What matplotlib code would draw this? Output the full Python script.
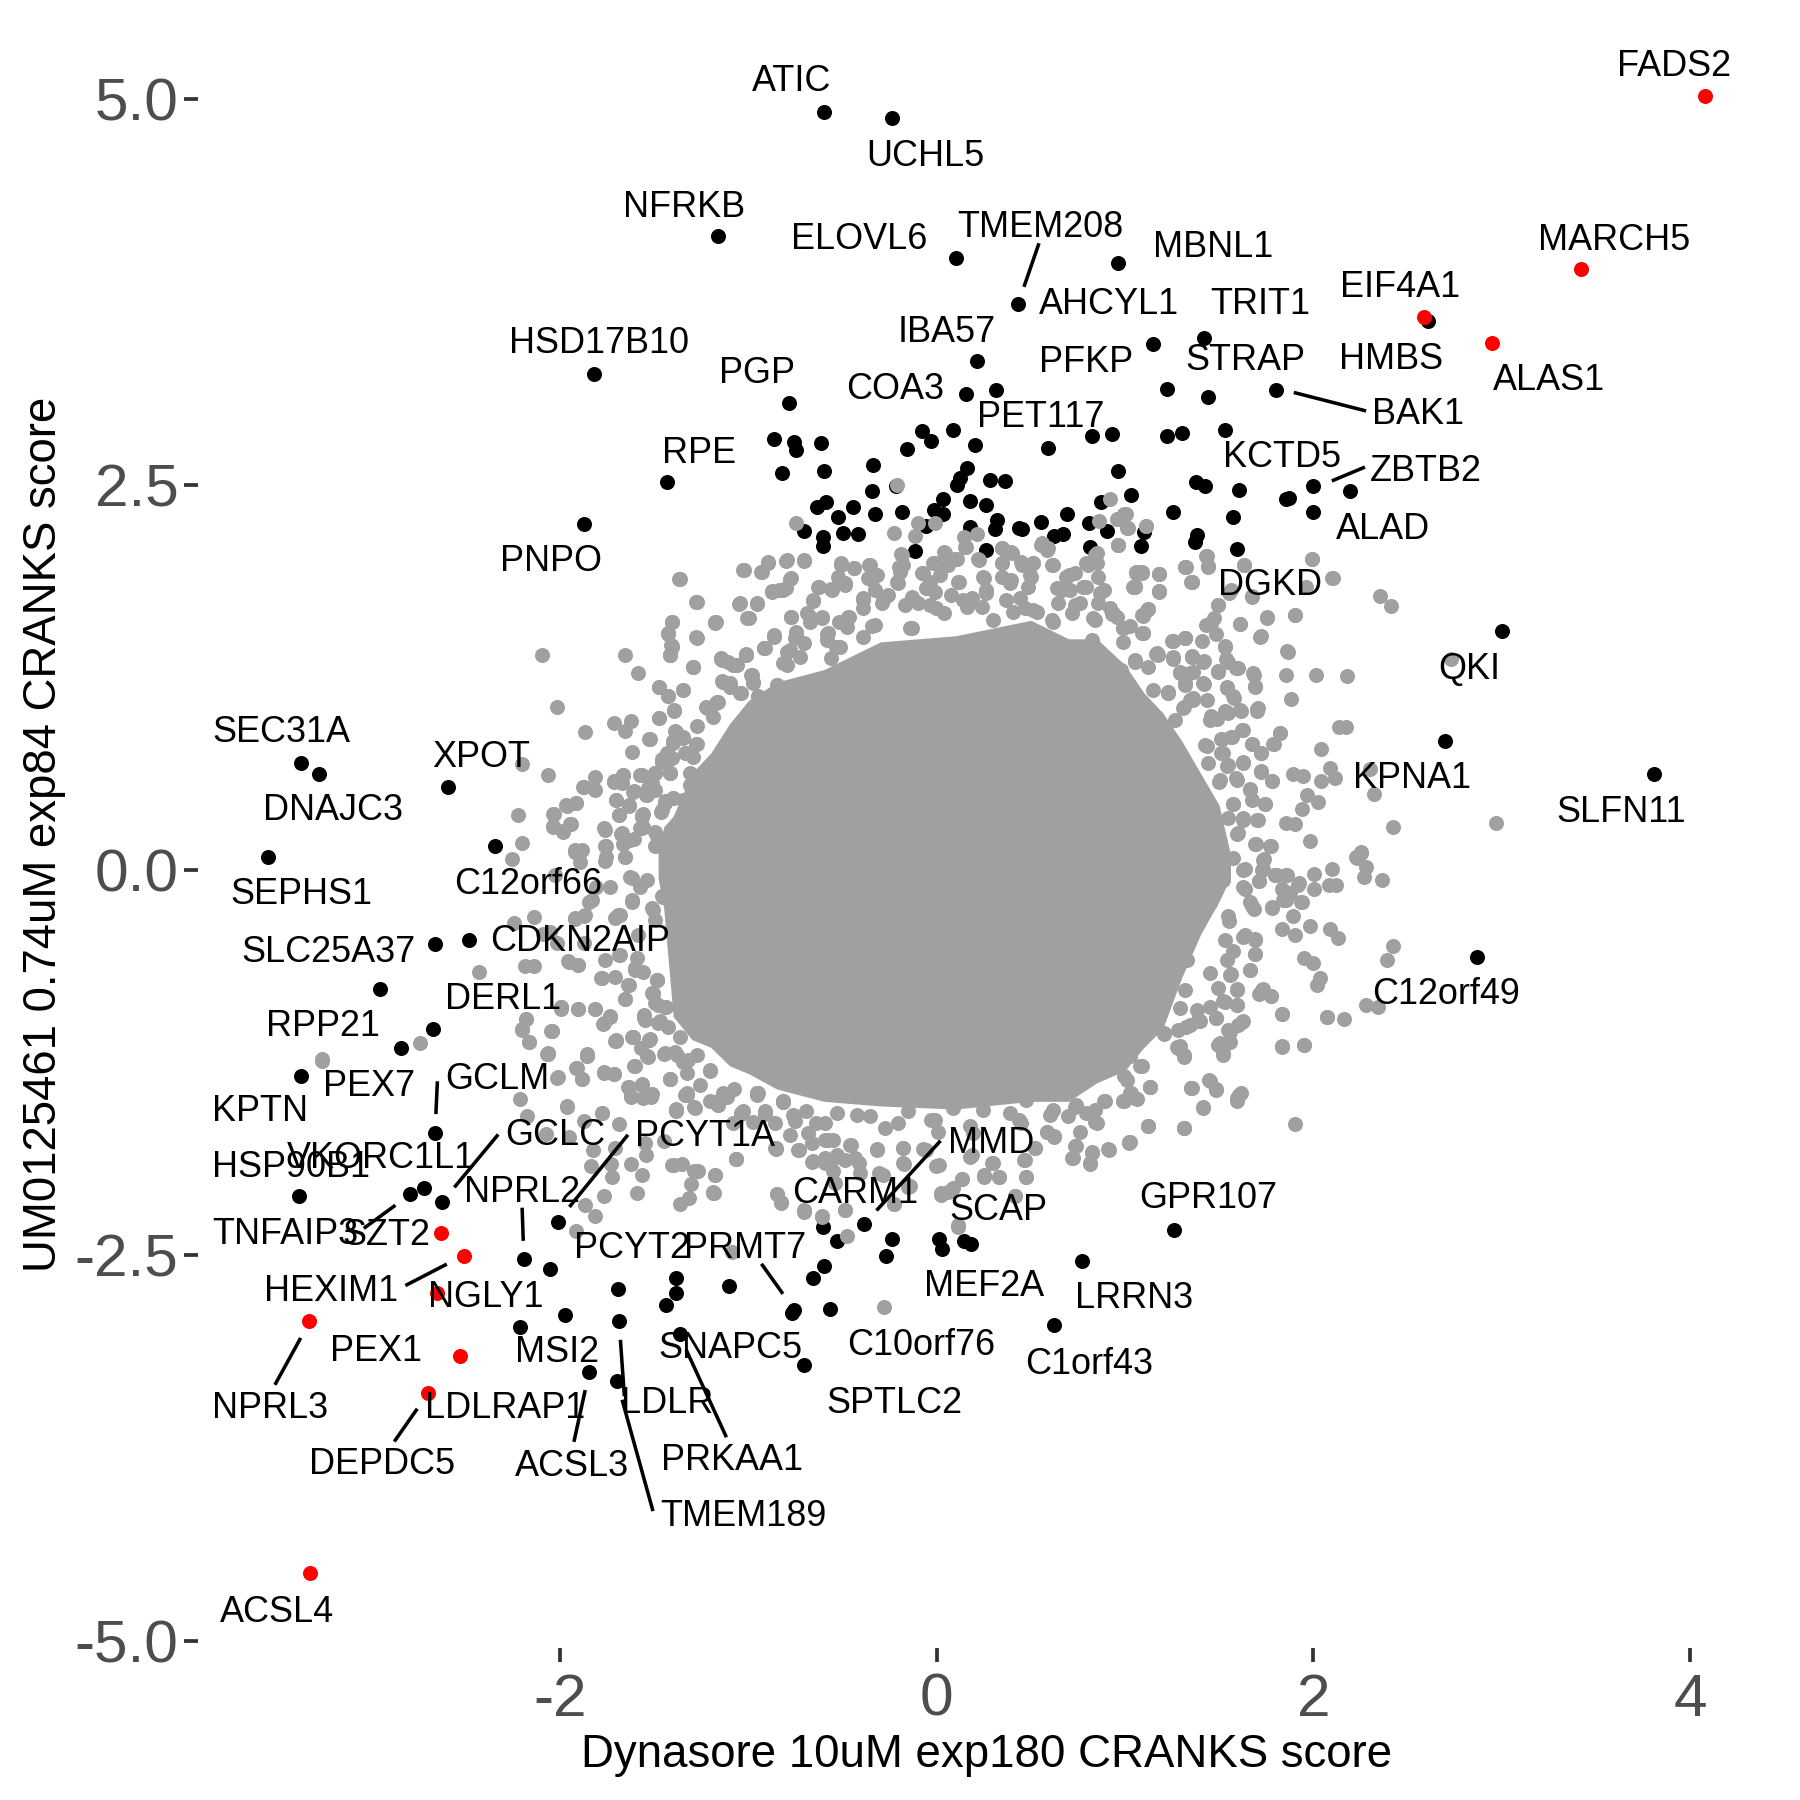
import matplotlib
matplotlib.use("Agg")
import matplotlib.pyplot as plt

plt.rcParams['font.family'] = ['Liberation Sans', 'DejaVu Sans']
plt.rcParams['axes.unicode_minus'] = False

# Dense centre of the cloud, read as an outline (x, upper y, lower y)
core_x = [-1.48, -1.45, -1.4, -1.3, -1.2, -1.1, -1.0, -0.85, -0.6, -0.3, 0.1, 0.5, 0.7, 0.85, 1.0, 1.1, 1.2, 1.3, 1.4, 1.5, 1.56]
core_hi = [0.10, 0.28, 0.35, 0.63, 0.76, 0.95, 1.10, 1.22, 1.30, 1.48, 1.52, 1.62, 1.50, 1.50, 1.33, 1.15, 1.02, 0.84, 0.63, 0.42, 0.10]
core_lo = [-0.05, -0.25, -0.95, -1.10, -1.15, -1.27, -1.32, -1.42, -1.50, -1.53, -1.55, -1.50, -1.50, -1.38, -1.30, -1.15, -1.03, -0.70, -0.42, -0.20, -0.05]

# Not-significant genes visible outside the dense centre
grey_points = [
(-1.365,1.887),(-1.276,1.736),(-1.178,1.607),(-1.405,1.607),(-1.426,1.533),(-1.276,1.509),(-1.405,1.451),(-1.415,1.398),
(-2.094,1.398),(-1.656,1.398),(-1.585,1.278),(-1.295,1.317),(-1.145,1.366),(-1.474,1.190),(-1.426,1.127),(-1.346,1.167),
(-1.136,1.220),(-2.016,1.058),(-1.396,1.035),(-1.225,1.058),(-1.174,1.081),(-1.866,0.896),(-1.714,0.956),(-1.625,0.970),
(-1.657,0.903),(-1.474,0.988),(-1.525,0.849),(-1.616,0.768),(-2.204,0.687),(-2.063,0.618),(-1.815,0.602),(-1.876,0.541),
(-1.815,0.518),(-1.714,0.572),(-1.667,0.618),(-1.576,0.618),(-1.496,0.629),(-1.415,0.629),(-1.458,0.722),(-1.383,0.896),
(-1.278,0.815),(-1.326,0.757),(-1.705,0.456),(-1.967,0.421),(-1.917,0.437),(-2.225,0.358),(-2.035,0.363),(-2.037,0.282),
(-1.942,0.298),(-1.986,0.247),(-1.686,0.358),(-1.635,0.421),(-1.559,0.363),(-1.610,0.514),(-1.544,0.490),(-2.204,0.178),
(-1.766,0.270),(-1.676,0.236),(-1.610,0.201),(-1.559,0.282),(-2.255,0.074),(-1.923,0.120),(-1.895,0.120),(-1.762,0.155),
(-1.657,0.085),(-1.895,0.050),(-1.762,0.062),(-2.027,-0.031),(-1.809,-0.112),(-1.847,-0.204),(-1.620,-0.054),(-1.620,-0.204),
(-1.458,-0.170),(-1.405,-0.123),(-2.246,-0.343),(-2.141,-0.302),(-1.923,-0.320),(-1.876,-0.297),(-1.695,-0.290),(-2.090,-0.413),
(-2.018,-0.471),(-1.876,-0.471),(-1.686,-0.552),(-1.955,-0.598),(-1.905,-0.617),(-2.189,-0.621),(-2.141,-0.621),(-2.433,-0.663),
(-1.781,-0.702),(-1.601,-0.633),(-1.633,-0.744),(-1.487,-0.714),(-1.657,-0.834),(-1.506,-0.806),(-1.439,-0.888),(-1.995,-0.888),
(-1.904,-0.904),(-1.815,-0.904),(-1.733,-0.950),(-1.771,-0.996),(-2.183,-0.969),(-2.204,-1.033),(-2.046,-1.043),(-2.164,-1.112),
(-1.709,-1.108),(-1.616,-1.080),(-1.553,-0.957),(-1.525,-1.096),(-2.065,-1.189),(-1.857,-1.196),(-2.744,-1.124),(-3.264,-1.223),
(1.112,2.232),(1.004,2.308),(0.958,2.274),(1.009,2.216),(0.962,2.107),(1.432,2.035),(1.442,1.973),(1.322,1.968),(1.631,1.980),
(1.992,2.017),(2.102,1.896),(1.057,1.926),(1.091,1.926),(1.182,1.919),(1.053,1.845),(1.182,1.808),(1.353,1.868),(1.550,1.799),
(1.673,1.776),(1.963,1.834),(2.352,1.780),(2.413,1.711),(1.493,1.718),(1.470,1.637),(1.432,1.590),(1.612,1.597),(1.753,1.637),
(1.901,1.655),(1.722,1.519),(1.483,1.533),(1.408,1.486),(1.318,1.505),(1.252,1.486),(1.531,1.451),(1.123,1.695),(1.095,1.648),
(1.095,1.537),(0.990,1.567),(0.933,1.660),(1.863,1.417),(1.165,1.401),(1.256,1.370),(1.354,1.389),(1.417,1.359),(1.535,1.366),
(1.853,1.266),(2.013,1.266),(2.181,1.257),(2.732,1.370),(1.683,1.266),(1.493,1.289),(1.313,1.266),(1.588,1.312),(1.692,1.192),
(1.417,1.208),(1.540,1.185),(1.882,1.109),(1.578,1.116),(1.360,1.116),(1.227,1.150),(1.702,1.046),(1.616,1.035),(1.313,1.058),
(1.531,1.035),(1.455,1.000),(2.134,0.928),(2.176,0.928),(1.622,0.907),(1.821,0.889),(1.512,0.849),(1.565,0.861),(1.673,0.815),
(1.791,0.815),(2.043,0.787),(1.722,0.757),(1.436,0.803),(1.512,0.757),(1.626,0.699),(1.540,0.676),(1.720,0.641),(1.781,0.578),
(1.891,0.625),(1.944,0.611),(2.090,0.664),(2.043,0.578),(2.113,0.595),(2.303,0.653),(2.322,0.495),(1.502,0.583),(1.588,0.595),
(1.664,0.525),(1.967,0.486),(2.024,0.444),(1.942,0.393),(1.743,0.428),(1.573,0.428),(1.626,0.340),(1.702,0.328),(1.853,0.305),
(1.905,0.298),(2.422,0.277),(2.972,0.305),(1.597,0.236),(1.982,0.187),(1.692,0.166),(1.774,0.155),(1.740,0.074),(2.252,0.120),
(2.229,0.085),(2.280,0.020),(2.271,-0.047),(2.362,-0.065),(2.100,0.004),(2.001,-0.026),(2.081,-0.100),(2.119,-0.100),(1.730,0.004),
(1.635,0.004),(1.796,-0.031),(1.853,-0.031),(1.711,-0.072),(1.920,-0.100),(2.001,-0.123),(1.834,-0.123),(1.635,-0.123),(1.853,-0.193),
(1.939,-0.204),(1.664,-0.204),(1.683,-0.251),(1.783,-0.239),(1.891,-0.297),(1.982,-0.360),(1.831,-0.383),(1.901,-0.424),(2.090,-0.385),
(2.132,-0.443),(1.635,-0.420),(1.692,-0.448),(1.550,-0.332),(2.422,-0.494),(2.392,-0.582),(1.692,-0.545),(1.948,-0.570),(1.996,-0.605),
(1.664,-0.651),(1.559,-0.679),(2.034,-0.702),(2.020,-0.744),(1.594,-0.776),(1.730,-0.772),(1.777,-0.818),(1.711,-0.807),(1.594,-0.876),
(1.531,-0.853),(1.834,-0.934),(2.071,-0.955),(2.163,-0.964),(2.280,-0.874),(2.343,-0.888),(1.483,-0.957),(1.622,-0.985),(1.556,-1.050),
(1.502,-1.131),(1.834,-1.142),(1.952,-1.135),(1.294,-1.142),(1.076,-1.108),(1.208,-1.061),(1.322,-1.015),(1.398,-0.980),(1.521,-1.189),(0.971,-1.061),
(-3.265,-1.236),(-2.182,-0.969),(-2.202,-1.039),(-2.165,-1.115),(-2.045,-1.043),(-2.066,-1.194),(-1.997,-0.900),(-1.856,-1.206),
(-1.705,-1.104),(-1.615,-1.085),(-1.535,-1.212),(-1.604,-1.270),(-1.913,-1.282),(-1.883,-1.356),(-2.014,-1.345),(-1.766,-1.317),
(-1.715,-1.324),(-1.415,-1.356),(-2.213,-1.483),(-1.965,-1.532),(-2.175,-1.595),(-1.776,-1.578),(-1.871,-1.629),(-1.688,-1.646),
(-1.636,-1.405),(-1.625,-1.467),(-1.566,-1.391),(-1.520,-1.456),(-1.384,-1.560),(-1.331,-1.456),(-1.289,-1.537),(-1.163,-1.525),
(-1.552,-1.768),(-1.545,-1.849),(-1.825,-1.815),(-1.951,-1.734),(-2.077,-1.710),(-1.709,-1.803),(-1.447,-1.757),(-1.064,-1.877),
(-1.835,-1.919),(-1.730,-1.907),(-1.726,-1.988),(-1.625,-1.907),(-1.566,-1.977),(-1.404,-1.914),(-1.352,-1.907),(-1.289,-1.954),
(-1.178,-1.977),(-1.306,-2.039),(-1.184,-2.095),(-1.594,-2.097),(-1.766,-2.111),(-1.316,-2.127),(-1.363,-2.167),(-1.867,-2.174),
(-1.814,-2.243),(-1.915,-2.343),(-0.848,-2.104),(-0.827,-2.162),(-0.859,-1.803),(-1.037,-1.583),(-0.911,-1.583),(-0.817,-1.502),
(-0.953,-1.456),(-1.079,-1.421),(-1.205,-1.305),(-0.753,-1.629),(-1.090,-2.475),
(-1.386,-1.555),(-1.066,-1.875),(-1.398,-1.912),(-1.268,-1.949),(-1.190,-2.091),(-0.706,-2.208),(-0.609,-2.247),(-0.485,-2.204),
(-0.478,-2.372),(-0.279,-2.831),(-0.225,-2.165),(-0.154,-2.053),(-0.308,-1.966),(-0.177,-1.901),(0.024,-2.096),(0.084,-2.063),
(0.133,-2.005),(0.250,-1.977),(0.333,-1.992),(0.475,-1.992),(0.297,-1.901),(0.463,-1.880),(0.415,-2.117),(0.112,-2.312),(0.012,-1.912),
(-0.059,-1.815),(-0.177,-1.804),(-0.320,-1.815),(-0.462,-1.782),(-0.533,-1.858),(-0.663,-1.895),(-0.592,-1.901),(-0.414,-1.901),
(-0.734,-1.815),(-0.663,-1.771),(-0.580,-1.750),(-0.853,-1.804),(-0.758,-1.599),(-0.640,-1.642),(-0.948,-1.447),(-0.817,-1.501),
(-1.031,-1.566),(-1.149,-1.490),(-1.327,-1.458),(-1.517,-1.469),(-0.011,-1.620),(0.178,-1.858),(0.190,-1.707),(0.586,-1.696),
(0.624,-1.728),(0.522,-1.804),(0.736,-1.793),(0.717,-1.869),(0.823,-1.826),(0.814,-1.901),(0.913,-1.815),(1.025,-1.767),(1.122,-1.663),
(1.312,-1.674),(1.902,-1.646),(1.416,-1.540),(1.594,-1.480),(1.606,-1.458),(1.352,-1.415),(1.482,-1.421),(1.447,-1.361),(1.131,-1.404),
(1.075,-1.106),(1.281,-1.155),(1.312,-1.214),(1.518,-1.199),(1.506,-1.123),(1.601,-1.004),(1.388,-0.972),(1.831,-0.935),(2.070,-0.954),
(1.831,-1.145),(1.952,-1.134),(0.996,-1.501),(0.890,-1.501),(0.795,-1.577),(0.842,-1.631),(0.736,-1.534),(0.617,-1.555),(0.475,-1.490),
(1.032,-1.447),(1.079,-1.274),(0.996,-1.339),(0.747,-1.382),(0.581,-1.220),(0.439,-1.620),
(-0.746,2.250),(-0.213,2.498),(0.918,2.405),(0.996,2.310),(0.961,2.276),(0.861,2.265),(1.013,2.217),(1.110,2.232),(0.963,2.109),
(-0.225,2.189),(-0.101,2.250),(-0.007,2.250),(-0.113,2.170),(0.143,2.163),(0.214,2.181),(0.558,2.120),(0.589,2.088),(-0.189,2.051),
(0.041,2.066),(0.155,2.098),(0.344,2.088),(0.392,2.066),(0.226,2.012),(0.095,2.016),(-0.011,1.990),(0.842,2.044),(0.795,1.990),
(0.617,1.980),(0.510,1.990),(0.451,1.981),(0.344,1.990),(-1.367,1.889),(-1.026,1.947),(-0.931,1.936),(-0.896,1.997),(-0.794,2.008),
(-0.706,2.008),(-0.775,1.893),(-0.877,1.807),(-0.817,1.817),(-0.623,1.839),(-0.557,1.817),(-0.485,1.850),(-0.509,1.990),(-0.438,1.958),
(-0.355,1.980),(-0.343,1.882),(-0.201,1.969),(-0.213,1.871),(-0.071,1.926),(-0.059,1.828),(0.119,1.871),(0.250,1.893),(0.261,1.796),
(0.392,1.882),(0.499,1.904),(0.700,1.915),(0.795,1.839),(0.664,1.817),(0.890,1.817),(1.067,1.936),(1.179,1.919),(1.044,1.839),(1.179,1.811),
(1.321,1.969),(1.435,2.034),(1.440,1.969),(1.352,1.871),(1.632,1.980),(1.992,2.018),(2.099,1.897),(1.565,1.817),(1.672,1.774),(1.494,1.720),
(1.755,1.640),(1.902,1.655),(1.613,1.595),(1.719,1.515),(1.862,1.418),(1.459,1.601),(1.115,1.688),(1.091,1.536),(1.257,1.487),(1.321,1.508),
(1.028,1.580),(0.937,1.666),(-1.275,1.737),(-1.050,1.727),(-0.955,1.727),(-0.999,1.634),(-1.173,1.608),(-1.405,1.612),(-1.429,1.536),
(-1.275,1.508),(-1.410,1.461),(-1.415,1.396),(-1.144,1.374),(-1.078,1.331),(-1.014,1.396),(-1.296,1.320),(-0.865,1.515),(-0.775,1.644),
(-0.675,1.644),(-0.609,1.640),(-0.474,1.644),(-0.746,1.536),(-0.580,1.536),(-0.656,1.753),(-0.391,1.753),(-0.284,1.753),(-0.130,1.753),
(0.036,1.666),(0.178,1.753),(0.368,1.753),(0.510,1.688),(0.736,1.720),(-0.343,1.580),(-0.130,1.569),(0.297,1.623),(0.617,1.612),(0.842,1.623),
(-0.912,1.439),(-0.782,1.428),(-0.533,1.450),(1.174,1.396),
]

# Second reading of the cloud's edge, from closer crops: top
grey_top = [
(-1.028,1.946),(-0.895,1.990),(-0.930,1.936),(-0.798,2.007),(-0.706,2.007),(-0.780,1.886),(-0.877,1.806),(-0.798,1.828),(-0.837,1.817),
(-0.630,1.838),(-0.559,1.821),(-0.488,1.860),(-0.523,1.903),(-0.506,1.979),(-0.438,1.957),(-0.359,1.979),(-0.364,1.892),(-0.320,1.914),
(-0.391,1.763),(-0.391,1.698),(-0.329,1.817),(-0.293,1.730),(-0.258,1.784),(-0.205,1.860),(-0.196,1.936),(-0.178,1.979),(-0.187,2.044),
(-0.081,1.925),(-0.019,1.990),(0.043,2.055),(0.105,2.016),(0.061,1.979),(0.017,1.914),(-0.037,1.871),(-0.054,1.828),(-0.010,1.806),
(-0.134,1.773),(-0.169,1.719),(-0.098,1.730),(-0.037,1.719),(-0.002,1.698),(0.114,1.871),(0.078,1.784),(0.141,1.752),(0.185,1.763),
(0.158,1.709),(0.247,1.903),(0.220,2.016),(0.149,2.098),(0.264,1.817),(0.238,1.709),(0.344,1.990),(0.344,1.903),(0.388,1.860),(0.344,2.087),
(0.397,2.059),(0.450,2.000),(0.512,1.990),(0.495,1.914),(0.486,1.838),(0.441,1.763),(0.468,1.698),(0.530,1.676),(0.406,1.676),(0.610,1.979),
(0.583,2.076),(0.551,2.109),(0.689,1.903),(0.733,1.925),(0.636,1.828),(0.707,1.817),(0.778,1.838),(0.645,1.730),(0.760,1.730),(0.716,1.665),
(0.610,1.622),(0.804,1.979),(0.849,1.990),(0.849,2.055),(0.857,1.903),(0.866,1.795),(0.857,1.730),(0.919,1.698),(0.955,1.644),(0.831,1.633),
(0.990,1.568),(0.964,2.109),(1.057,1.936),(1.088,1.936),(1.052,1.838),(1.181,1.920),(1.181,1.806),(1.321,1.968),(1.353,1.871),(1.123,1.691),
(1.088,1.655),(1.093,1.536),(0.990,1.482),(1.247,1.488),(1.321,1.508),(1.167,1.406),(1.052,1.363),(1.123,1.320),(1.256,1.384),(1.353,1.384),
(0.981,1.298),(0.742,1.298),(0.875,1.341),(0.822,1.492),(1.291,1.276),(1.318,1.211),(1.362,1.287),(1.229,1.147),(1.150,1.168),(1.344,1.103),
(-1.178,1.605),(-1.046,1.730),(-0.957,1.730),(-1.007,1.637),(-0.776,1.644),(-0.691,1.665),(-0.674,1.611),(-0.612,1.637),(-0.656,1.748),
(-0.467,1.644),(-0.518,1.611),(-0.479,1.579),(-0.865,1.525),(-0.745,1.546),(-0.753,1.503),(-0.706,1.471),(-0.582,1.529),(-0.585,1.492),
(-0.918,1.438),(-1.015,1.395),(-0.794,1.417),(-0.514,1.449),(-0.329,1.590),(-0.391,1.514),(-0.143,1.568),(-1.148,1.367),(-1.081,1.330),
(-0.987,1.265),(-0.978,1.211),(-1.138,1.229),(-1.099,1.190),(-1.037,1.147),(-0.948,1.129),(-1.169,1.092),(-0.819,1.341),(-0.727,1.384),
(-0.847,1.201),(-0.559,1.374),
]

# Left edge
grey_left = [
(-1.408,1.450),(-1.417,1.396),(-1.296,1.316),(-1.473,1.190),(-1.426,1.130),(-1.346,1.169),(-1.395,1.039),(-1.473,0.985),(-1.526,0.849),
(-1.385,0.898),(-1.346,0.866),(-1.399,0.834),(-1.272,0.819),(-1.328,0.758),(-1.293,0.736),(-1.434,0.726),(-1.461,0.704),(-1.417,0.628),
(-1.496,0.628),(-1.310,0.628),(-1.567,0.617),(-1.310,0.553),(-1.532,0.531),(-1.443,0.434),(-1.399,0.466),(-1.461,0.391),(-1.346,0.455),
(-1.567,0.347),(-1.567,0.272),(-1.487,0.218),(-1.470,0.153),(-1.408,-0.117),(-1.452,-0.172),(-1.514,-0.247),(-1.487,-0.712),(-1.505,-0.798),
(-1.479,-0.874),(-1.549,-0.971),(-1.470,-0.982),(-1.526,-1.101),(-1.541,-1.209),(-1.443,-1.187),(-1.381,-1.198),(-1.319,-1.231),(-1.275,-1.198),
(-1.328,-1.317),(-1.417,-1.354),(-1.204,-1.296),(-1.257,-1.393),(-1.328,-1.447),(-1.284,-1.544),(-1.385,-1.555),(-1.133,-1.447),(-1.160,-1.523),
(-1.036,-1.577),(-0.956,-1.447),(-0.912,-1.577),(-0.815,-1.505),(-1.107,1.352),(-1.142,1.363),(-1.063,1.331),(-1.013,1.400),(-1.133,1.223),
(-1.098,1.212),(-1.045,1.147),(-0.983,1.266),(-0.974,1.223),(-0.948,1.125),(-0.916,1.439),(-1.160,1.093),(-1.222,1.050),(-1.275,0.935),
(-1.187,0.996),(-0.850,1.201),(-0.824,1.093),(-0.797,1.331),
]

# Outer left ring, upper half
grey_left_outer_up = [
(-1.434,0.758),(-1.408,0.726),(-1.461,0.704),(-1.337,0.758),(-1.390,0.899),(-1.399,0.823),(-1.346,0.856),(-1.417,0.629),(-1.496,0.629),
(-1.664,0.618),(-1.714,0.575),(-1.673,0.564),(-1.877,0.538),(-1.615,0.505),(-1.541,0.488),(-1.496,0.521),(-1.514,0.564),(-1.703,0.456),
(-1.916,0.438),(-1.965,0.417),(-2.036,0.363),(-1.633,0.417),(-1.686,0.358),(-1.567,0.358),(-1.443,0.445),(-1.399,0.467),(-1.466,0.376),
(-1.948,0.298),(-2.036,0.287),(-1.987,0.255),(-1.762,0.261),(-1.673,0.240),(-1.629,0.196),(-1.576,0.272),(-1.496,0.250),(-1.757,0.153),
(-1.664,0.170),(-1.921,0.127),(-1.886,0.127),(-1.496,0.153),(-1.656,0.084),(-1.757,0.084),
]

# Outer left ring, lower half
grey_left_outer_low = [
(-1.735,-0.107),(-1.833,-0.193),(-1.620,-0.193),(-1.576,-0.107),(-1.629,-0.042),(-1.541,-0.064),(-1.682,-0.291),(-1.709,-0.312),(-1.868,-0.291),
(-1.921,-0.312),(-2.054,-0.399),(-1.505,-0.258),(-1.452,-0.172),(-1.408,-0.129),(-1.496,-0.323),(-1.585,-0.420),(-1.682,-0.550),(-1.762,-0.583),
(-1.957,-0.593),(-1.903,-0.615),(-1.594,-0.572),(-1.602,-0.647),(-1.779,-0.701),(-1.709,-0.691),(-1.558,-0.658),(-1.487,-0.712),(-1.638,-0.745),
(-1.656,-0.835),(-1.514,-0.799),(-1.496,-0.864),(-1.443,-0.885),(-1.997,-0.889),(-1.907,-0.902),(-1.815,-0.902),(-1.735,-0.946),(-1.767,-0.989),
(-2.045,-1.043),(-1.555,-0.939),(-1.479,-0.993),(-1.425,-1.015),(-1.363,-1.080),(-1.705,-1.106),(-1.615,-1.084),(-1.526,-1.101),(-1.572,-1.155),
(-1.537,-1.209),(-1.448,-1.194),(-1.390,-1.177),(-1.346,-1.242),(-2.068,-1.194),(-1.856,-1.205),(-1.916,-1.281),(-1.886,-1.354),(-2.015,-1.346),
(-1.767,-1.313),(-1.714,-1.324),(-1.606,-1.274),(-1.417,-1.354),(-1.638,-1.404),(-1.567,-1.387),(-1.625,-1.469),(-1.514,-1.452),(-1.558,-1.480),
(-1.337,-1.458),(-1.386,-1.551),(-1.965,-1.534),(-1.776,-1.573),
]

# Right edge
grey_right = [
(1.168,1.402),(1.053,1.352),(0.973,1.298),(1.256,1.374),(1.354,1.385),(1.416,1.352),(1.531,1.450),(1.548,1.352),(1.602,1.309),(1.681,1.277),
(1.690,1.190),(1.495,1.288),(1.345,1.277),(1.292,1.288),(1.318,1.201),(1.416,1.212),(1.540,1.180),(1.575,1.126),(1.230,1.158),(1.363,1.104),
(1.433,1.104),(1.309,1.050),(1.265,0.974),(1.486,0.979),(1.548,1.017),(1.610,1.039),(1.708,1.050),(1.699,1.035),(1.451,0.974),(1.625,0.909),
(1.513,0.849),(1.566,0.860),(1.672,0.819),(1.722,0.758),(1.787,0.819),(1.823,0.888),(1.425,0.812),(1.522,0.758),(1.548,0.682),(1.628,0.693),
(1.722,0.639),(1.782,0.579),(1.442,0.693),(1.501,0.574),(1.593,0.585),(1.663,0.520),(1.672,0.455),(1.743,0.429),(1.571,0.429),(1.548,0.336),
(1.628,0.326),(1.708,0.326),(1.602,0.239),(1.694,0.168),(1.770,0.153),(1.734,0.066),(1.725,0.001),(1.711,-0.074),(1.796,-0.031),(1.575,0.077),
(1.628,0.001),(1.628,-0.107),(1.672,-0.236),(1.779,-0.243),(1.522,-0.063),(1.478,-0.117),(1.451,-0.215),(1.548,-0.301),(1.628,-0.431),
(1.690,-0.452),(1.690,-0.543),(1.531,-0.452),(1.575,-0.528),(1.664,-0.651),(1.561,-0.675),(1.593,-0.772),(1.725,-0.777),(1.773,-0.820),
(1.593,-0.874),(1.522,-0.852),(1.481,-0.960),(1.625,-0.982),(1.548,-1.036),(1.557,-1.112),(1.495,-1.134),(1.522,-1.188),(1.389,-0.982),
(1.283,-1.036),(1.345,-1.004),(1.207,-1.058),(1.274,-1.149),(1.313,-1.198),(1.070,-1.101),(1.292,-0.896),(1.380,-0.907),(1.451,-0.885),
(1.495,-0.766),(1.318,-0.777),(1.327,-0.582),(1.540,-0.582),(1.451,-0.669),(0.973,-1.252),(1.026,-1.209),(1.088,-1.274),(1.008,-1.360),
(0.991,-1.501),(1.062,-1.486),(1.026,-1.447),(1.132,-1.404),(1.354,-1.415),(1.451,-1.365),(1.483,-1.425),(1.412,-1.544),(1.614,-1.447),
(1.593,-1.497),(1.124,-1.663),(1.313,-1.674),(1.023,-1.771),
(1.925,-0.086),(1.876,-0.150),(1.840,-0.194),(1.805,-0.032),(1.858,-0.032),(1.937,-0.205),(2.251,0.109),(2.230,0.076),
]

# Bottom edge
grey_bottom = [
(-0.953,-1.447),(-0.815,-1.501),(-0.913,-1.566),(-1.037,-1.577),(-0.975,-1.631),(-0.860,-1.642),(-0.762,-1.588),(-0.692,-1.566),(-0.594,-1.642),
(-0.532,-1.577),(-0.426,-1.588),(-0.355,-1.598),(-0.276,-1.674),(-0.205,-1.642),(-0.152,-1.566),(-0.028,-1.620),(0.008,-1.696),(0.087,-1.544),
(0.176,-1.663),(0.247,-1.555),(0.388,-1.577),(0.450,-1.642),(0.583,-1.696),(0.622,-1.733),(0.601,-1.588),(0.698,-1.598),(0.742,-1.523),
(0.840,-1.555),(0.893,-1.501),(0.990,-1.501),(1.052,-1.480),(0.849,-1.642),(0.760,-1.696),(1.132,-1.404),(1.350,-1.415),(1.123,-1.663),
(1.312,-1.674),(1.020,-1.761),(0.911,-1.810),(0.742,-1.793),(0.721,-1.869),(0.822,-1.832),(0.813,-1.905),(0.468,-1.880),(0.521,-1.804),
(0.472,-1.992),(0.291,-1.901),(0.332,-1.992),(0.250,-1.988),(0.185,-1.847),(0.132,-2.005),(0.061,-2.085),(0.020,-2.107),(0.415,-2.117),
(0.114,-2.305),(-0.002,-1.918),(-0.072,-1.810),(-0.178,-1.804),(-0.175,-1.905),(-0.320,-1.810),(-0.284,-1.977),(-0.143,-2.052),(-0.226,-2.165),
(-0.458,-1.782),(-0.435,-1.869),(-0.408,-1.966),(-0.550,-1.750),(-0.594,-1.750),(-0.532,-1.847),(-0.594,-1.869),(-0.656,-1.890),(-0.488,-1.880),
(-0.550,-1.955),(-0.541,-2.031),(-0.736,-1.815),(-0.854,-1.810),(-0.683,-1.707),(-0.780,-1.717),(-1.067,-1.873),(-1.178,-1.977),(-1.187,-2.096),
(-0.847,-2.100),(-0.828,-2.156),(-0.706,-2.215),(-0.607,-2.251),(-0.488,-2.204),(-1.081,-1.642),(-1.116,-1.469),(-1.205,-1.501),
]

# Significant in one screen
black_points = [
(-0.60,4.92),(-0.24,4.88),(-1.16,4.11),(0.10,3.97),(0.96,3.94),(0.43,3.67),(1.15,3.41),(1.42,3.45),(2.61,3.56),(-1.82,3.22),
(0.214,3.30),(0.314,3.115),(0.155,3.089),(-0.786,3.03),(-0.865,2.795),(-0.758,2.775),(-0.746,2.725),(-0.616,2.769),(-0.824,2.578),
(-0.597,2.589),(-0.338,2.626),(-0.158,2.73),(-0.078,2.85),(-0.028,2.786),(0.084,2.857),(0.202,2.756),(0.162,2.611),(0.126,2.542),
(0.107,2.498),(0.285,2.529),(0.361,2.524),(0.593,2.736),(0.823,2.816),(0.932,2.827),(0.963,2.589),(1.224,3.119),(1.442,3.067),
(1.802,3.114),(1.224,2.814),(1.302,2.838),(1.532,2.857),(1.376,2.518),(1.423,2.488),(1.603,2.468),(2.0,2.488),(1.869,2.412),(1.855,2.405),
(2.0,2.325),(1.252,2.325),(1.572,2.289),(1.380,2.174),(1.371,2.131),(1.594,2.085),(1.032,2.436),(0.873,2.386),(0.811,2.25),(0.902,2.202),
(1.103,2.196),(1.084,2.105),(0.814,2.096),(0.693,2.31),(0.553,2.256),(0.669,2.18),(0.624,2.168),(0.439,2.217),(0.453,2.213),(0.321,2.271),
(0.311,2.213),(0.264,2.369),(0.174,2.397),(0.174,2.228),(0.264,2.077),(0.031,2.408),(-0.016,2.336),(0.031,2.308),(-0.059,2.235),(-0.116,2.068),
(-0.187,2.325),(-0.218,2.488),(-0.346,2.457),(-0.327,2.308),(-0.445,2.358),(-0.526,2.287),(-0.590,2.386),(-0.635,2.358),(-0.704,2.202),
(-0.606,2.163),(-0.606,2.103),(-0.497,2.189),(-0.417,2.178),(-1.434,2.516),(-1.876,2.246),(2.195,2.457),
(3.0,1.549),(2.70,0.834),(3.81,0.625),(2.87,-0.566),
(-3.374,0.694),(-3.283,0.625),(-2.594,0.537),(-3.552,0.087),(-2.346,0.159),(-2.665,-0.482),(-2.484,-0.452),(-2.955,-0.774),(-2.674,-1.033),(-2.845,-1.154),
(-3.374,-1.335),(-2.665,-1.706),(-3.385,-2.113),(-2.795,-2.104),(-2.723,-2.065),(-2.625,-2.155),(-2.014,-2.285),(-2.194,-2.526),(-2.056,-2.586),
(-1.694,-2.716),(-1.386,-2.648),(-1.386,-2.746),(-1.436,-2.824),(-1.104,-2.695),(-1.976,-2.885),(-1.686,-2.924),(-2.215,-2.966),(-1.365,-3.012),
(-1.846,-3.255),(-1.698,-3.313),
(-0.606,-2.318),(-0.386,-2.295),(-0.528,-2.403),(-0.237,-2.394),(0.012,-2.39),(0.027,-2.459),(0.143,-2.405),(0.183,-2.427),(-0.267,-2.504),
(-0.597,-2.565),(-0.656,-2.645),(1.262,-2.334),(0.771,-2.535),(0.624,-2.954),(-0.758,-2.852),(-0.770,-2.87),(-0.566,-2.846),(-0.706,-3.213),
]

# Significant in both screens
red_points = [
(4.08,5.02),(3.42,3.90),(2.59,3.59),(2.95,3.42),(-3.33,-4.56),
(-2.635,-2.354),(-2.513,-2.505),(-2.654,-2.746),(-3.334,-2.926),(-2.534,-3.153),(-2.704,-3.394),
]

label_names = ["ATIC","UCHL5","NFRKB","ELOVL6","TMEM208","MBNL1","AHCYL1","TRIT1","EIF4A1","MARCH5","FADS2","HMBS","ALAS1",
"HSD17B10","IBA57","PFKP","STRAP","PGP","COA3","PET117","BAK1","RPE","KCTD5","ZBTB2","ALAD","PNPO","DGKD","QKI","KPNA1","SLFN11",
"SEC31A","XPOT","DNAJC3","SEPHS1","C12orf66","CDKN2AIP","SLC25A37","C12orf49","DERL1","RPP21","PEX7","GCLM","KPTN","GCLC","PCYT1A",
"MMD","HSP90B1","VKORC1L1","NPRL2","CARM1","GPR107","SCAP","TNFAIP3","SZT2","PCYT2","PRMT7","MEF2A","HEXIM1","NGLY1","LRRN3",
"C10orf76","SNAPC5","PEX1","MSI2","C1orf43","SPTLC2","LDLR","NPRL3","LDLRAP1","DEPDC5","ACSL3","PRKAA1","TMEM189","ACSL4"]
label_x = [-0.982,-0.372,-1.665,-0.774,0.110,1.146,0.543,1.451,2.140,3.195,3.610,2.134,2.951,
-2.274,-0.207,0.543,1.323,-1.159,-0.482,0.213,2.311,-1.457,1.518,2.299,2.122,-2.317,1.494,2.665,2.213,3.293,
-3.848,-2.677,-3.579,-3.750,-2.561,-2.372,-3.695,2.311,-2.610,-3.561,-3.262,-2.610,-3.848,-2.293,-1.604,
0.061,-3.848,-3.451,-2.512,-0.768,1.073,0.067,-3.848,-3.159,-1.927,-1.341,-0.067,-3.573,-2.701,0.732,
-0.476,-1.476,-3.220,-2.238,0.470,-0.585,-1.677,-3.848,-2.720,-3.335,-2.238,-1.463,-1.470,-3.805]
label_y = [5.138,4.654,4.326,4.118,4.192,4.066,3.693,3.693,3.805,4.110,5.235,3.336,3.202,
3.440,3.514,3.321,3.328,3.246,3.142,2.964,2.978,2.725,2.703,2.614,2.234,2.025,1.869,1.325,0.618,0.402,
0.916,0.759,0.410,-0.134,-0.067,-0.439,-0.506,-0.782,-0.812,-0.990,-1.378,-1.333,-1.541,-1.698,-1.705,
-1.750,-1.906,-1.847,-2.063,-2.070,-2.107,-2.182,-2.338,-2.345,-2.427,-2.427,-2.673,-2.710,-2.748,-2.755,
-3.060,-3.075,-3.098,-3.105,-3.179,-3.433,-3.433,-3.470,-3.470,-3.827,-3.842,-3.805,-4.170,-4.788]

# Leader lines: x start, y start, x end, y end
leaders = [
(0.543,4.066,0.463,3.783),(1.896,3.098,2.280,2.978),(2.098,2.524,2.274,2.614),(-2.652,-1.370,-2.660,-1.583),
(-2.329,-1.715,-2.562,-2.058),(-1.640,-1.717,-1.951,-2.185),(-2.202,-2.190,-2.196,-2.405),(-2.875,-2.174,-3.043,-2.324),
(-2.602,-2.556,-2.822,-2.695),(-3.378,-3.035,-3.515,-3.339),(-2.759,-3.494,-2.881,-3.707),(-1.867,-3.373,-1.927,-3.709),
(-1.680,-3.047,-1.659,-3.413),(-1.671,-3.436,-1.507,-4.158),(-1.331,-3.111,-1.117,-3.679),(-0.931,-2.554,-0.817,-2.749),
(0.020,-1.756,-0.320,-2.208),
]

x_ticks = [-2, 0, 2, 4]
y_ticks = [-5.0, -2.5, 0.0, 2.5, 5.0]
x_title = "Dynasore 10uM exp180 CRANKS score"
y_title = "UM0125461 0.74uM exp84 CRANKS score"

GREY = "#A0A0A0"
W = 1800
fig = plt.figure(figsize=(6, 6), dpi=300)
ax = fig.add_axes([197.5/W, 1-1648/W, (1776-197.5)/W, (1648-26)/W])
ax.set_xlim(-3.926, 4.457)
ax.set_ylim(-5.046, 5.475)
for s in ax.spines.values():
    s.set_visible(False)

S = 13
bx, by = zip(*black_points)
ax.scatter(bx, by, s=S, c="black", linewidths=0, zorder=2)
ax.fill_between(core_x, core_lo, core_hi, color=GREY, linewidth=0, zorder=3)
all_grey = grey_points + grey_top + grey_left + grey_left_outer_up + grey_left_outer_low + grey_right + grey_bottom
gx, gy = zip(*all_grey)
ax.scatter(gx, gy, s=S, c=GREY, linewidths=0, zorder=3)
rx, ry = zip(*red_points)
ax.scatter(rx, ry, s=S, c="#FF0000", linewidths=0, zorder=4)

for x0, y0, x1, y1 in leaders:
    ax.plot([x0, x1], [y0, y1], color="black", lw=0.85, solid_capstyle="butt", zorder=5)
for name, x, y in zip(label_names, label_x, label_y):
    ax.annotate(name, (x, y), xytext=(0, -0.95), textcoords="offset points",
                ha="left", va="center", fontsize=8.65, color="black", zorder=6)

ax.set_xticks(x_ticks)
ax.set_xticklabels([str(v) for v in x_ticks])
ax.set_yticks(y_ticks)
ax.set_yticklabels([f"{v:.1f}" for v in y_ticks])
ax.tick_params(axis="both", length=3.3, width=0.9, color="#333333", labelcolor="#4D4D4D", labelsize=14.5)
ax.tick_params(axis="x", pad=2.6)
ax.tick_params(axis="y", pad=1.3)

fig.text(859*1.148/W, 1-1529*1.148/W, x_title, ha="center", va="center", fontsize=10.95)
fig.text(38*1.148/W, 1-727*1.148/W, y_title, rotation=90, ha="center", va="center", fontsize=10.93)

fig.savefig("out.png", dpi=300)
